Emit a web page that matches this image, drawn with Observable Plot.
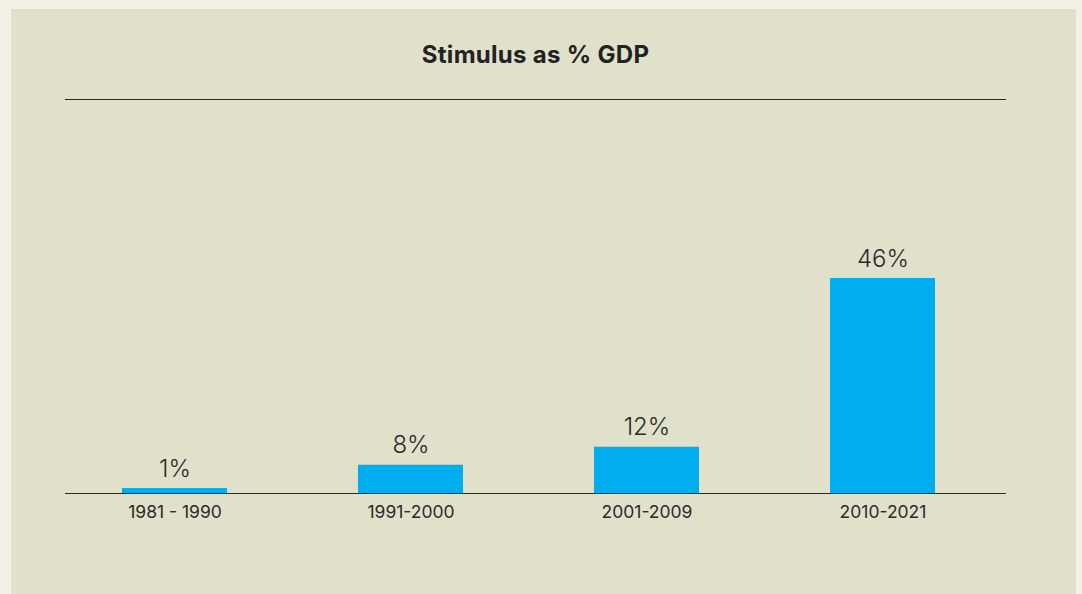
<!DOCTYPE html>
<html>
<head>
<meta charset="utf-8">
<script src="https://cdn.jsdelivr.net/npm/d3@7"></script>
<script src="https://cdn.jsdelivr.net/npm/@observablehq/plot@0.6"></script>
<style>
  html, body { margin: 0; padding: 0; background: #f1f1e6; width: 1082px; height: 594px; overflow: hidden; }
  #panel { position: absolute; left: 11px; top: 9px; width: 1065px; height: 585px; background: #e1e0ca; font-family: Inter, "Noto Sans", sans-serif; }
  #title { box-sizing: border-box; margin-left: 54px; width: 941px; height: 91px; border-bottom: 1px solid #2b2b2b;
           text-align: center; font-weight: 700; font-size: 24px; line-height: 28px; color: #222; padding-top: 32px; letter-spacing: 0.3px; }
  #chart svg { display: block; }
</style>
</head>
<body>
<div id="panel">
  <div id="title">Stimulus as % GDP</div>
  <div id="chart"></div>
</div>
<script>
const periods = ["1981 - 1990", "1991-2000", "2001-2009", "2010-2021"];
const barHeights = [1.05, 6.05, 9.9, 46];      // drawn bar heights
const valueLabels = ["1%", "8%", "12%", "46%"];

const data = periods.map((p, i) => ({period: p, h: barHeights[i], label: valueLabels[i]}));

const chart = Plot.plot({
  width: 1065,
  height: 494,
  marginLeft: 54,
  marginRight: 70,
  marginTop: 0,
  marginBottom: 101,
  style: {background: "transparent", fontFamily: "Inter, 'Noto Sans', sans-serif", fontSize: "17.5px", color: "#2b2b2b"},
  x: {domain: periods, range: [44, 991], paddingInner: 0.556, paddingOuter: 0.278, label: null, tickSize: 0, tickPadding: 12},
  y: {domain: [0, 46], range: [393, 178], axis: null},
  marks: [
    Plot.barY(data, {x: "period", y: "h", fill: "#00adee"}),
    Plot.text(data, {x: "period", y: "h", text: "label", lineAnchor: "bottom", dy: -12, fontSize: 24, fontWeight: 300, fill: "#2b2b2b"}),
    Plot.ruleY([0], {stroke: "#2b2b2b", strokeWidth: 1})
  ]
});
document.getElementById("chart").appendChild(chart);
</script>
</body>
</html>
